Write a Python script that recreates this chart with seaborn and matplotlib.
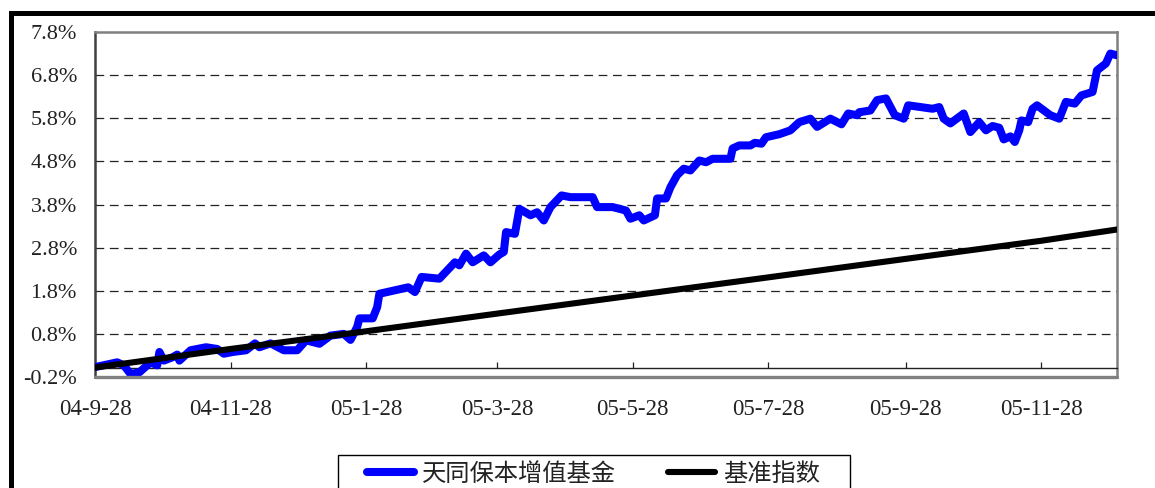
import matplotlib
matplotlib.use("Agg")
import matplotlib.pyplot as plt
import seaborn as sns
import pandas as pd
from matplotlib.lines import Line2D
from matplotlib.patches import Rectangle

# ---------------- data ----------------
start_date = "2004-09-28"
series_names = ["天同保本增值基金", "基准指数"]

fund_days = [0, 10, 13, 16, 20, 25, 28, 29, 31, 35,
             37, 38, 43, 50, 55, 58, 62, 68, 72, 74,
             79, 85, 91, 95, 101, 106, 112, 115, 118, 119,
             125, 127, 128, 141, 144, 147, 155, 162, 164, 167,
             170, 175, 178, 182, 184, 185, 189, 191, 196, 199,
             202, 205, 210, 214, 224, 226, 233, 239, 241, 245,
             247, 252, 253, 257, 259, 262, 265, 268, 272, 275,
             278, 286, 287, 290, 295, 297, 300, 302, 308, 313,
             317, 322, 325, 331, 336, 339, 343, 344, 349, 352,
             356, 360, 364, 366, 377, 380, 382, 385, 391, 394,
             398, 401, 404, 407, 409, 412, 414, 416, 417, 420,
             422, 424, 430, 434, 437, 441, 444, 449, 451, 455,
             457, 460]
fund_values = [0.03, 0.14, 0.07, -0.13, -0.09, 0.14, 0.07, 0.38, 0.18, 0.26,
               0.32, 0.18, 0.42, 0.49, 0.45, 0.34, 0.38, 0.42, 0.58, 0.49,
               0.58, 0.42, 0.42, 0.65, 0.57, 0.76, 0.80, 0.66, 0.96, 1.16,
               1.16, 1.42, 1.73, 1.88, 1.77, 2.12, 2.08, 2.46, 2.39, 2.66,
               2.46, 2.62, 2.46, 2.64, 2.70, 3.16, 3.12, 3.70, 3.55, 3.62,
               3.43, 3.74, 4.01, 3.97, 3.97, 3.74, 3.74, 3.66, 3.47, 3.55,
               3.43, 3.55, 3.94, 3.94, 4.20, 4.48, 4.63, 4.59, 4.82, 4.78,
               4.86, 4.86, 5.10, 5.17, 5.17, 5.23, 5.21, 5.36, 5.43, 5.52,
               5.71, 5.79, 5.60, 5.79, 5.66, 5.91, 5.87, 5.94, 5.98, 6.22,
               6.26, 5.87, 5.79, 6.10, 6.02, 6.06, 5.79, 5.68, 5.91, 5.48,
               5.71, 5.52, 5.62, 5.58, 5.31, 5.38, 5.25, 5.52, 5.75, 5.71,
               6.02, 6.10, 5.87, 5.79, 6.18, 6.14, 6.33, 6.41, 6.91, 7.07,
               7.30, 7.26]

bench_days = [0, 61, 122, 181, 242, 303, 365, 426, 460]
bench_values = [0.02, 0.45, 0.86, 1.27, 1.69, 2.11, 2.54, 2.96, 3.22]

x_tick_dates = ["2004-09-28", "2004-11-28", "2005-01-28", "2005-03-28",
                "2005-05-28", "2005-07-28", "2005-09-28", "2005-11-28"]
x_tick_labels = ["04-9-28", "04-11-28", "05-1-28", "05-3-28",
                 "05-5-28", "05-7-28", "05-9-28", "05-11-28"]
y_ticks = [-0.2, 0.8, 1.8, 2.8, 3.8, 4.8, 5.8, 6.8, 7.8]
x_end_day = 460

# ---------------- style ----------------
sns.set_style("white")
plt.rcParams["font.family"] = ["Liberation Serif", "Noto Sans CJK SC", "DejaVu Sans"]

W, H = 1155, 488
fig = plt.figure(figsize=(W / 100, H / 100), dpi=100)
ax = fig.add_axes([95 / W, 1 - 377 / H, (1117 - 95) / W, (377 - 32) / H])

t0 = pd.Timestamp(start_date)
fund = pd.DataFrame({"date": t0 + pd.to_timedelta(fund_days, unit="D"),
                     "value": fund_values})
bench = pd.DataFrame({"date": t0 + pd.to_timedelta(bench_days, unit="D"),
                      "value": bench_values})

sns.lineplot(data=fund, x="date", y="value", ax=ax, color="#0000FF", lw=5.8,
             label=series_names[0], solid_joinstyle="round",
             solid_capstyle="round", zorder=3)
sns.lineplot(data=bench, x="date", y="value", ax=ax, color="black", lw=4.4,
             label=series_names[1], solid_capstyle="round", zorder=4)

ax.set_xlim(t0, t0 + pd.Timedelta(days=x_end_day))
ax.set_ylim(y_ticks[0], y_ticks[-1])
ax.set_xlabel("")
ax.set_ylabel("")

ax.set_xticks(pd.to_datetime(x_tick_dates))
ax.set_xticklabels(x_tick_labels)
ax.set_yticks(y_ticks)
ax.set_yticklabels([f"{v:.1f}%" for v in y_ticks])

ax.spines["bottom"].set_position(("data", 0))
ax.spines["bottom"].set_color("#202020")
ax.spines["bottom"].set_linewidth(1.0)
for s in ["top", "right"]:
    ax.spines[s].set_color("#808080")
    ax.spines[s].set_linewidth(1.8)
ax.spines["left"].set_color("#404040")
ax.spines["left"].set_linewidth(1.8)
ax.plot([0, 1], [0, 0], transform=ax.transAxes, color="#808080", lw=2.4,
        clip_on=False, zorder=5)

ax.tick_params(axis="x", direction="in", length=4.5, width=0.9, color="#202020",
               pad=22, labelsize=16.5, labelcolor="#222222", bottom=True)
ax.tick_params(axis="y", length=0, pad=13, labelsize=16, labelcolor="#222222")

for v in y_ticks[1:-1]:
    ax.axhline(v, color="#222222", lw=0.9, ls=(0, (7, 4.5)), zorder=1)

handles, labels = ax.get_legend_handles_labels()
leg = ax.legend(handles, labels, loc="center left",
                bbox_to_anchor=(367 / W, 1 - 474 / H),
                bbox_transform=fig.transFigure, ncol=2, frameon=False,
                prop={"family": ["Noto Sans CJK SC"], "size": 17.5},
                handlelength=1.95, handletextpad=0.3, columnspacing=2.15,
                borderpad=0, borderaxespad=0)
for t in leg.get_texts():
    t.set_color("#222222")

# legend box (cropped at the bottom of the picture)
fig.add_artist(Rectangle((337.5 / W, -0.2), (850 - 337.5) / W, 0.2 + 1 - 454.5 / H,
                         transform=fig.transFigure, fill=False,
                         edgecolor="black", lw=1.0))

# outer chart frame (cropped at right and bottom)
fig.add_artist(Line2D([10.5 / W, 10.5 / W], [-0.1, 1 - 12.5 / H],
                      transform=fig.transFigure, color="black", lw=3.6,
                      solid_capstyle="projecting"))
fig.add_artist(Line2D([10.5 / W, 1.1], [1 - 12.5 / H, 1 - 12.5 / H],
                      transform=fig.transFigure, color="black", lw=3.6,
                      solid_capstyle="projecting"))

fig.savefig("out.png", dpi=100)
